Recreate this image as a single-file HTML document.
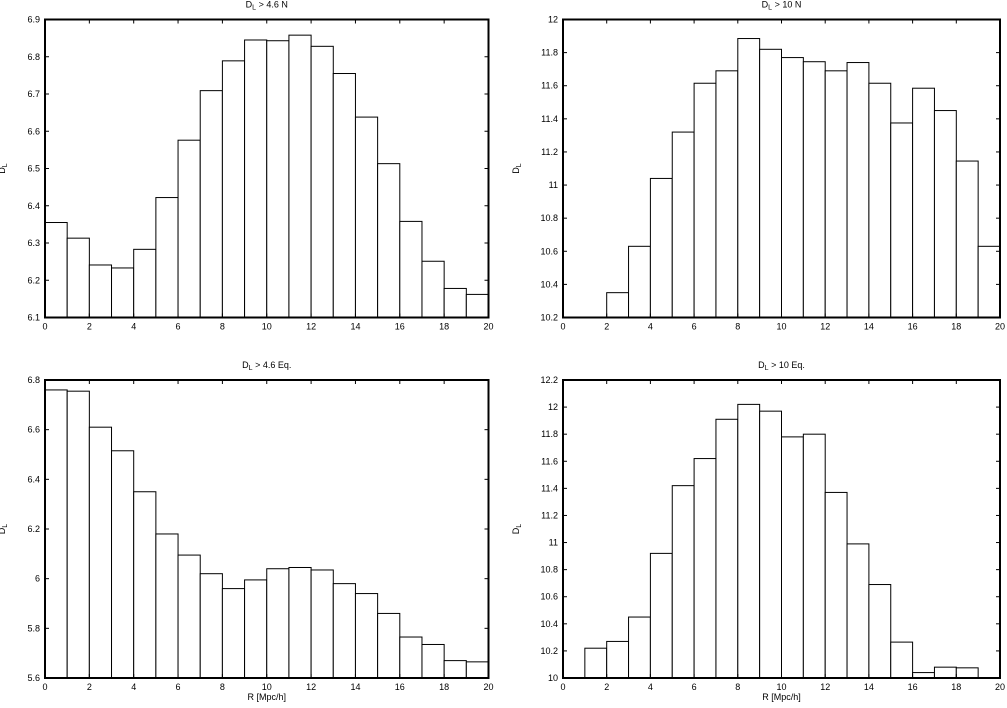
<!DOCTYPE html>
<html><head><meta charset="utf-8"><style>
body{margin:0;background:#fff;}
svg{display:block;font-family:"Liberation Sans",sans-serif;font-size:9px;}
</style></head><body>
<svg id="c" width="1007" height="708" viewBox="0 0 1007 708"></svg>
<script>
const xTicks=[0,2,4,6,8,10,12,14,16,18,20];
const tlValues=[6.355,6.313,6.241,6.233,6.283,6.422,6.576,6.709,6.789,6.845,6.843,6.858,6.828,6.755,6.638,6.513,6.358,6.251,6.178,6.162];
const tlStart=0;
const tlYTicks=[6.1,6.2,6.3,6.4,6.5,6.6,6.7,6.8,6.9];
const trValues=[10.35,10.63,11.04,11.32,11.615,11.69,11.885,11.82,11.77,11.745,11.69,11.74,11.615,11.375,11.585,11.45,11.145,10.63];
const trStart=2;
const trYTicks=[10.2,10.4,10.6,10.8,11,11.2,11.4,11.6,11.8,12];
const blValues=[6.76,6.755,6.61,6.515,6.35,6.18,6.095,6.02,5.96,5.995,6.04,6.045,6.035,5.98,5.94,5.86,5.765,5.735,5.67,5.665];
const blStart=0;
const blYTicks=[5.6,5.8,6,6.2,6.4,6.6,6.8];
const brValues=[10.22,10.27,10.45,10.92,11.42,11.62,11.91,12.02,11.97,11.78,11.8,11.37,10.99,10.69,10.265,10.04,10.08,10.075];
const brStart=1;
const brYTicks=[10,10.2,10.4,10.6,10.8,11,11.2,11.4,11.6,11.8,12,12.2];

const NS="http://www.w3.org/2000/svg";
const svg=document.getElementById('c');
function mk(tag,attrs,parent){const e=document.createElementNS(NS,tag);for(const k in attrs)e.setAttribute(k,attrs[k]);(parent||svg).appendChild(e);return e;}

function panel(key,L,R,T,B,values,start,yTicks,titleBase,titleSuffix,showXTitle,ylx){
  const g=mk('g',{});
  
  
  const y0=yTicks[0],y1=yTicks[yTicks.length-1];
  const sx=v=>L+(v-0)/(20-0)*(R-L);
  const sy=v=>B-(v-y0)/(y1-y0)*(B-T);
  values.forEach((v,i)=>{
    const x=sx(start+i),x2=sx(start+i+1),y=sy(v);
    const r=mk('rect',{x:x,y:y,width:x2-x,height:B-y,fill:'#fff',stroke:'#000','stroke-width':1},g);
    
    
  });
  xTicks.forEach(t=>{
    const x=sx(t);
    mk('line',{x1:x,y1:B,x2:x,y2:B-4,stroke:'#000','stroke-width':1},g);
    mk('line',{x1:x,y1:T,x2:x,y2:T+4,stroke:'#000','stroke-width':1},g);
    const tx=mk('text',{x:x,y:B+12,'text-anchor':'middle'},g);
    tx.textContent=t;
    
    
  });
  yTicks.forEach(t=>{
    const y=sy(t);
    mk('line',{x1:L,y1:y,x2:L+4,y2:y,stroke:'#000','stroke-width':1},g);
    mk('line',{x1:R,y1:y,x2:R-4,y2:y,stroke:'#000','stroke-width':1},g);
    const tx=mk('text',{x:L-5,y:y+3,'text-anchor':'end'},g);
    tx.textContent=String(t);
    
    
  });
  const fr=mk('rect',{x:L,y:T,width:R-L,height:B-T,fill:'none',stroke:'#000','stroke-width':2},g);
  
  
  const ti=mk('text',{x:(L+R)/2,y:T-12,'text-anchor':'middle'},g);
  ti.innerHTML='D<tspan font-size="7" dy="2">L</tspan><tspan dy="-2"> &gt; '+titleBase+' '+titleSuffix+'</tspan>';
  
  
  const yl=mk('text',{x:0,y:0,'text-anchor':'middle',transform:'translate('+ylx+','+((T+B)/2)+') rotate(-90)'},g);
  yl.innerHTML='D<tspan font-size="7" dy="2">L</tspan>';
  
  
  if(showXTitle){
    const xl=mk('text',{x:(L+R)/2,y:B+22,'text-anchor':'middle'},g);
    xl.textContent='R [Mpc/h]';
    
    
  }
}
panel('top-left',45,488.5,19.5,317.5,tlValues,tlStart,tlYTicks,'4.6','N',false,5);
panel('top-right',563,1000,19.5,317.5,trValues,trStart,trYTicks,'10','N',false,519);
panel('bottom-left',45,488.5,380,678,blValues,blStart,blYTicks,'4.6','Eq.',true,5);
panel('bottom-right',563,1000,380,678,brValues,brStart,brYTicks,'10','Eq.',true,519);
</script>
</body></html>
